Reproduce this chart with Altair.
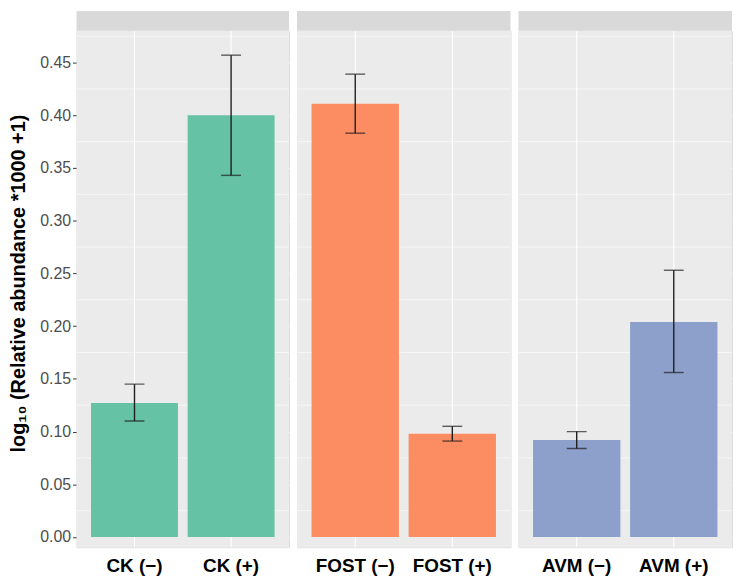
import altair as alt
import pandas as pd

FONT = "Liberation Sans"

groups = ["CK", "CK", "FOST", "FOST", "AVM", "AVM"]
labels = ["CK (−)", "CK (+)", "FOST (−)", "FOST (+)", "AVM (−)", "AVM (+)"]
means = [0.127, 0.400, 0.411, 0.098, 0.092, 0.204]
lows = [0.110, 0.343, 0.383, 0.091, 0.084, 0.156]
highs = [0.145, 0.457, 0.439, 0.105, 0.100, 0.253]
group_colors = {"CK": "#66C2A5", "FOST": "#FC8D62", "AVM": "#8DA0CB"}
panel_order = ["CK", "FOST", "AVM"]
panel_widths = [214, 215, 215]
major_ticks = [0.00, 0.05, 0.10, 0.15, 0.20, 0.25, 0.30, 0.35, 0.40, 0.45]
minor_ticks = [0.025, 0.075, 0.125, 0.175, 0.225, 0.275, 0.325, 0.375, 0.425, 0.475]
y_domain = [-0.0097, 0.4801]
y_title = "log₁₀ (Relative abundance *1000 +1)"

df = pd.DataFrame({"group": groups, "label": labels, "mean": means,
                   "lo": lows, "hi": highs})
minor_df = pd.DataFrame({"v": minor_ticks})
HEIGHT = 520
ERR_COLOR = "#1E1E1E"
ERR_W = 1.4


def panel(g, width, first):
    sub = df[df.group == g].reset_index(drop=True)
    order = list(sub.label)
    color = group_colors[g]
    xs = alt.Scale(domain=order, paddingInner=0.1, paddingOuter=0.15)
    ys = alt.Scale(domain=y_domain, nice=False, zero=False)
    if first:
        yaxis = alt.Axis(values=major_ticks, format=".2f", grid=True,
                         gridColor="white", gridWidth=1.1, domain=False,
                         tickColor="#333333", tickSize=4, tickWidth=1,
                         labelColor="#4D4D4D", labelFontSize=16,
                         labelFont=FONT, labelPadding=2, title=y_title,
                         titleFont=FONT, titleFontSize=20,
                         titleFontWeight="bold", titleColor="black",
                         titlePadding=11, titleY=254)
    else:
        yaxis = alt.Axis(values=major_ticks, grid=True, gridColor="white",
                         gridWidth=1.1, domain=False, ticks=False,
                         labels=False, title=None)
    xaxis = alt.Axis(title=None, labelAngle=0, labelFont=FONT,
                     labelFontSize=19, labelFontWeight="bold",
                     labelColor="black", ticks=False, domain=False,
                     grid=False, labelPadding=9)
    X = alt.X("label:N", scale=xs, sort=order, axis=xaxis)

    bg = alt.Chart(pd.DataFrame({"s": [g]})).mark_rect(color="#EBEBEB").encode(
        x=alt.value(0), x2=alt.value(width), y=alt.value(0), y2=alt.value(HEIGHT))
    minor = alt.Chart(minor_df).mark_rule(color="white", strokeWidth=0.55).encode(
        y=alt.Y("v:Q", scale=ys, axis=yaxis))
    vgrid = alt.Chart(sub).mark_rule(color="white", strokeWidth=1.1).encode(x=X)
    bars = alt.Chart(sub).mark_bar(color=color).encode(
        x=X, y=alt.Y("mean:Q", scale=ys, axis=yaxis))
    err = alt.Chart(sub).mark_rule(color=ERR_COLOR, strokeWidth=ERR_W).encode(
        x=X, y=alt.Y("lo:Q", scale=ys, axis=yaxis), y2="hi:Q")
    cap_lo = alt.Chart(sub).mark_tick(color=ERR_COLOR, thickness=ERR_W, size=20,
                                      orient="horizontal").encode(
        x=X, y=alt.Y("lo:Q", scale=ys, axis=yaxis))
    cap_hi = alt.Chart(sub).mark_tick(color=ERR_COLOR, thickness=ERR_W, size=20,
                                      orient="horizontal").encode(
        x=X, y=alt.Y("hi:Q", scale=ys, axis=yaxis))
    strip = alt.Chart(pd.DataFrame({"s": [g]})).mark_rect(color="#D9D9D9").encode(
        x=alt.value(0), x2=alt.value(width), y=alt.value(-20), y2=alt.value(0))
    return alt.layer(bg, minor, vgrid, bars, err, cap_lo, cap_hi, strip).properties(
        width=width, height=HEIGHT)


panels = [panel(g, w, i == 0) for i, (g, w) in enumerate(zip(panel_order, panel_widths))]
chart = alt.hconcat(*panels, spacing=6).properties(
    padding={"left": 0, "top": 0, "right": 0, "bottom": 0}
).configure_view(stroke="#EBEBEB").configure(
    font=FONT
)

chart.save("out.html", embed_options={"renderer": "svg", "actions": False})
